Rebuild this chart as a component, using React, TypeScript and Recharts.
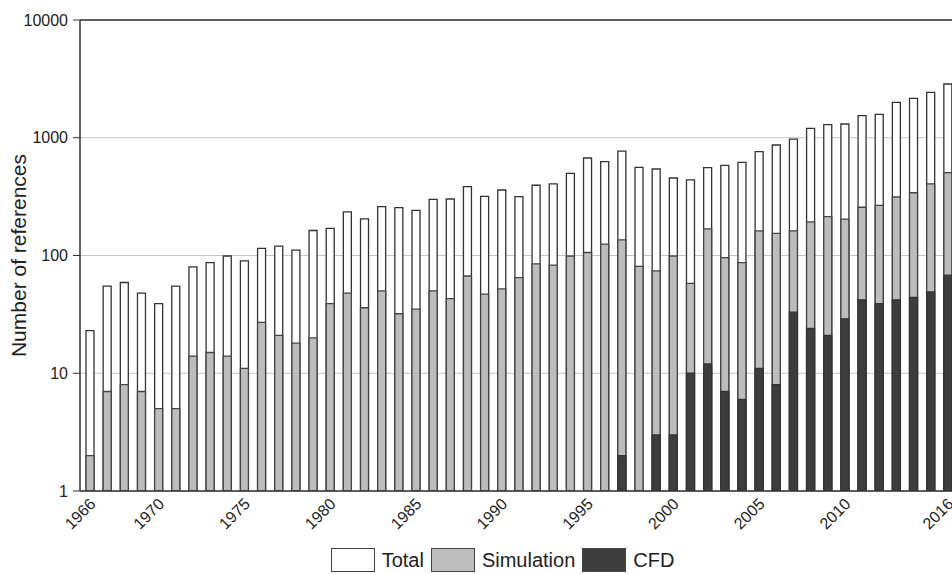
import { BarChart, Bar, XAxis, YAxis, CartesianGrid, Legend, ReferenceLine } from "recharts";

const YEARS = [
  "1966", "1967", "1968", "1969", "1970", "1971", "1972", "1973", "1974", "1975",
  "1976", "1977", "1978", "1979", "1980", "1981", "1982", "1983", "1984", "1985",
  "1986", "1987", "1988", "1989", "1990", "1991", "1992", "1993", "1994", "1995",
  "1996", "1997", "1998", "1999", "2000", "2001", "2002", "2003", "2004", "2005",
  "2006", "2007", "2008", "2009", "2010", "2011", "2012", "2013", "2014", "2015",
  "2016",
];

const TOTAL = [
  23, 55, 59, 48, 39, 55, 80, 87, 99, 90,
  115, 120, 111, 163, 170, 235, 205, 260, 255, 242,
  300, 302, 384, 318, 360, 316, 395, 405, 499, 673,
  626, 770, 561, 543, 455, 438, 557, 583, 618, 762,
  868, 975, 1202, 1291, 1309, 1539, 1582, 2000, 2163, 2432,
  2860,
];

const SIMULATION = [
  2, 7, 8, 7, 5, 5, 14, 15, 14, 11,
  27, 21, 18, 20, 39, 48, 36, 50, 32, 35,
  50, 43, 67, 47, 52, 65, 85, 83, 99, 106,
  125, 136, 81, 74, 99, 58, 168, 96, 87, 162,
  154, 162, 193, 214, 204, 257, 267, 314, 341, 405,
  505,
];

const CFD = [
  null, null, null, null, null, null, null, null, null, null,
  null, null, null, null, null, null, null, null, null, null,
  null, null, null, null, null, null, null, null, null, null,
  null, 2, null, 3, 3, 10, 12, 7, 6, 11,
  8, 33, 24, 21, 29, 42, 39, 42, 44, 49,
  68,
];

const YEAR_LABELS = ["1966", "1970", "1975", "1980", "1985", "1990", "1995", "2000", "2005", "2010", "2016"];
const Y_TICKS = [1, 10, 100, 1000, 10000];

const FONT = '"Liberation Sans", Arial, sans-serif';
const TEXT = "#222";

const data = YEARS.map((year, i) => ({
  year,
  total: TOTAL[i],
  simulation: SIMULATION[i],
  cfd: CFD[i],
}));

const LEGEND_ITEMS = [
  { label: "Total", fill: "#ffffff" },
  { label: "Simulation", fill: "#bdbdbd" },
  { label: "CFD", fill: "#3d3d3d" },
];

function YearTick(props: any) {
  const { x, y, payload } = props;
  if (!YEAR_LABELS.includes(payload.value)) return <g />;
  return (
    <g transform={`translate(${x + 7},${y + 14})`}>
      <text textAnchor="end" transform="rotate(-45)" fontSize={16} fill={TEXT} fontFamily={FONT}>
        {payload.value}
      </text>
    </g>
  );
}

function renderLegend() {
  return (
    <div
      style={{
        display: "flex",
        justifyContent: "center",
        alignItems: "center",
        height: 28,
        paddingLeft: 56,
        fontFamily: FONT,
        fontSize: 20,
        color: TEXT,
      }}
    >
      {LEGEND_ITEMS.map((item) => (
        <div key={item.label} style={{ display: "flex", alignItems: "center" }}>
          <span
            style={{
              display: "inline-block",
              width: 42,
              height: 22,
              background: item.fill,
              border: "1px solid #444",
              marginRight: 7,
            }}
          />
          <span style={{ marginRight: 7 }}>{item.label}</span>
        </div>
      ))}
    </div>
  );
}

export default function App() {
  return (
    <div
      style={{
        position: "fixed",
        left: 0,
        top: 0,
        width: 952,
        height: 574,
        overflow: "hidden",
        background: "#fff",
      }}
    >
      <BarChart
        width={956}
        height={574}
        data={data}
        margin={{ top: 20, right: 0, bottom: 0, left: 0 }}
        barSize={8}
        barGap={-8}
      >
        <CartesianGrid vertical={false} stroke="#c4c4c4" />
        <ReferenceLine y={10000} stroke="#333" strokeWidth={1.5} />
        <XAxis
          dataKey="year"
          interval={0}
          tickLine={false}
          tickSize={0}
          tickMargin={0}
          height={55}
          padding={{ left: 1, right: 0 }}
          axisLine={{ stroke: "#333", strokeWidth: 1.5 }}
          tick={<YearTick />}
        />
        <YAxis
          scale="log"
          type="number"
          domain={[1, 10000]}
          ticks={Y_TICKS}
          allowDataOverflow
          width={80}
          tickSize={7}
          tickMargin={5}
          axisLine={{ stroke: "#333", strokeWidth: 1.5 }}
          tickLine={{ stroke: "#333" }}
          tick={{ fontSize: 16, fill: TEXT, fontFamily: FONT }}
          label={{
            value: "Number of references",
            angle: -90,
            position: "insideLeft",
            offset: 19,
            style: { textAnchor: "middle", fontSize: 21, fill: TEXT, fontFamily: FONT },
          }}
        />
        <Legend verticalAlign="bottom" content={renderLegend} />
        <Bar dataKey="total" name="Total" fill="#ffffff" stroke="#333" strokeWidth={1.3} isAnimationActive={false} />
        <Bar dataKey="simulation" name="Simulation" fill="#bdbdbd" stroke="#444" strokeWidth={1.3} isAnimationActive={false} />
        <Bar dataKey="cfd" name="CFD" fill="#3d3d3d" stroke="#333" strokeWidth={1.3} isAnimationActive={false} />
      </BarChart>
    </div>
  );
}
